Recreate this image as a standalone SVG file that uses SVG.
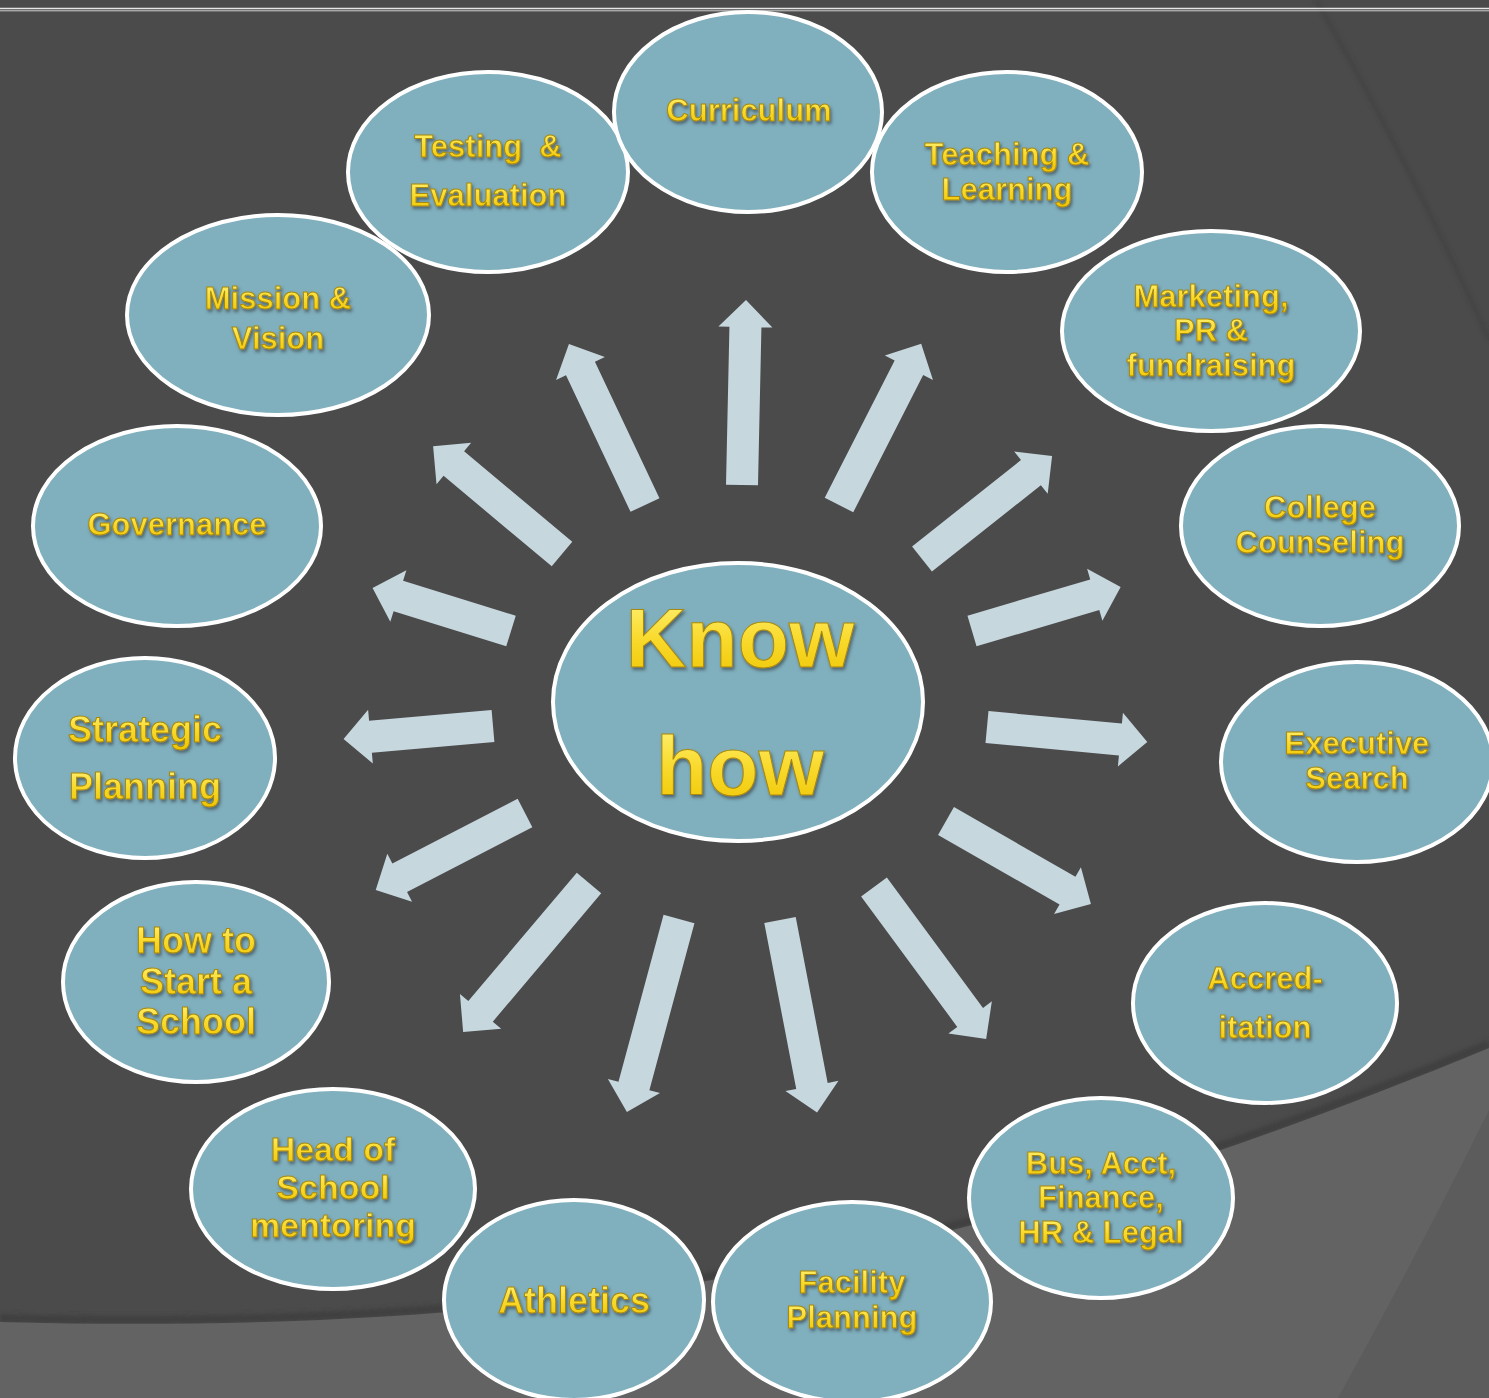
<svg xmlns="http://www.w3.org/2000/svg" width="1489" height="1398" viewBox="0 0 1489 1398">
<defs>
<linearGradient id="gold" x1="0" y1="0" x2="0" y2="1">
<stop offset="0" stop-color="#fff47e"/>
<stop offset="0.5" stop-color="#f9da2e"/>
<stop offset="1" stop-color="#eec400"/>
</linearGradient>
<filter id="sh" x="-10%" y="-20%" width="120%" height="150%">
<feDropShadow dx="1.5" dy="2.5" stdDeviation="1.5" flood-color="#3a4a50" flood-opacity="0.7"/>
</filter>
<filter id="blur"><feGaussianBlur stdDeviation="2"/></filter>
<style>
.node ellipse{fill:#80afbd;stroke:#ffffff;stroke-width:4}
.node text{font-family:"Liberation Sans",Arial,sans-serif;font-weight:bold;fill:url(#gold);stroke:#a8890a;stroke-width:1;text-anchor:middle;filter:url(#sh);white-space:pre}
.t31{font-size:31px}
.t34{font-size:34px}
.t36{font-size:36px}
.big{font-size:84px;stroke-width:1.4}
.arrow{fill:#c7d7de}
</style>
</defs>
<rect x="0" y="0" width="1489" height="1398" fill="#4b4b4b"/>
<path d="M1313,0 Q1400,150 1489,340 L1489,0 Z" fill="#4a4a4a"/>
<path d="M1316,0 Q1403,150 1489,340" fill="none" stroke="#3e3e3e" stroke-width="3" filter="url(#blur)" opacity="0.7"/>
<path d="M0,1318 C600,1334 1000,1246 1489,1044" fill="none" stroke="#3f3f3f" stroke-width="8" filter="url(#blur)"/>
<path d="M0,1322 C600,1338 1000,1250 1489,1048 L1489,1398 L0,1398 Z" fill="#636363"/>
<path d="M1489,1110 Q1420,1250 1338,1398 L1489,1398 Z" fill="#5c5c5c"/>
<line x1="0" y1="8.5" x2="1489" y2="8.5" stroke="#e6e6e6" stroke-width="1.4"/>
<line x1="0" y1="10.8" x2="1489" y2="10.8" stroke="#cfcfcf" stroke-width="1"/>

<g id="connectors">
<polygon class="arrow" transform="translate(742,485) rotate(-88.76)" points="0,-16 158,-16 158,-27 185,0 158,27 158,16 0,16"/>
<polygon class="arrow" transform="translate(839,505) rotate(-63.0)" points="0,-16 154,-16 154,-27 181,0 154,27 154,16 0,16"/>
<polygon class="arrow" transform="translate(922,559) rotate(-38.4)" points="0,-16 139,-16 139,-27 166,0 139,27 139,16 0,16"/>
<polygon class="arrow" transform="translate(972,631) rotate(-16.45)" points="0,-16 128,-16 128,-27 155,0 128,27 128,16 0,16"/>
<polygon class="arrow" transform="translate(987,727) rotate(5.36)" points="0,-16 134,-16 134,-27 161,0 134,27 134,16 0,16"/>
<polygon class="arrow" transform="translate(946,821) rotate(29.8)" points="0,-16 140,-16 140,-27 167,0 140,27 140,16 0,16"/>
<polygon class="arrow" transform="translate(874,887) rotate(53.6)" points="0,-16 162,-16 162,-27 189,0 162,27 162,16 0,16"/>
<polygon class="arrow" transform="translate(780,920) rotate(79.1)" points="0,-16 169,-16 169,-27 196,0 169,27 169,16 0,16"/>
<polygon class="arrow" transform="translate(679,919) rotate(105.1)" points="0,-16 173,-16 173,-27 200,0 173,27 173,16 0,16"/>
<polygon class="arrow" transform="translate(589,883) rotate(130.2)" points="0,-16 168,-16 168,-27 195,0 168,27 168,16 0,16"/>
<polygon class="arrow" transform="translate(525,813) rotate(152.7)" points="0,-16 141,-16 141,-27 168,0 141,27 141,16 0,16"/>
<polygon class="arrow" transform="translate(493,726) rotate(175.0)" points="0,-16 123,-16 123,-27 150,0 123,27 123,16 0,16"/>
<polygon class="arrow" transform="translate(511,631) rotate(-162.7)" points="0,-16 118,-16 118,-27 145,0 118,27 118,16 0,16"/>
<polygon class="arrow" transform="translate(562,554) rotate(-140.1)" points="0,-16 141,-16 141,-27 168,0 141,27 141,16 0,16"/>
<polygon class="arrow" transform="translate(645,505) rotate(-115.3)" points="0,-16 151,-16 151,-27 178,0 151,27 151,16 0,16"/>
</g>

<g id="node-testing" class="node">
<ellipse cx="488" cy="172" rx="140" ry="100"/>
<text class="t31" x="488" y="157">Testing  &amp;</text>
<text class="t31" x="488" y="206">Evaluation</text>
</g>
<g id="node-teaching" class="node">
<ellipse cx="1007" cy="172" rx="135" ry="100"/>
<text class="t31" x="1007" y="165">Teaching &amp;</text>
<text class="t31" x="1007" y="200">Learning</text>
</g>
<g id="node-curriculum" class="node">
<ellipse cx="748" cy="112" rx="134" ry="100"/>
<text class="t31" x="749" y="121">Curriculum</text>
</g>
<g id="node-mission" class="node">
<ellipse cx="278" cy="315" rx="151" ry="100"/>
<text class="t31" x="278" y="309">Mission &amp;</text>
<text class="t31" x="278" y="349">Vision</text>
</g>
<g id="node-marketing" class="node">
<ellipse cx="1211" cy="331" rx="149" ry="100"/>
<text class="t31" x="1211" y="307">Marketing,</text>
<text class="t31" x="1211" y="341">PR &amp;</text>
<text class="t31" x="1211" y="376">fundraising</text>
</g>
<g id="node-governance" class="node">
<ellipse cx="177" cy="526" rx="144" ry="100"/>
<text class="t31" x="177" y="535">Governance</text>
</g>
<g id="node-college" class="node">
<ellipse cx="1320" cy="526" rx="139" ry="100"/>
<text class="t31" x="1320" y="518">College</text>
<text class="t31" x="1320" y="553">Counseling</text>
</g>
<g id="node-strategic" class="node">
<ellipse cx="145" cy="758" rx="130" ry="100"/>
<text class="t36" x="145" y="742">Strategic</text>
<text class="t36" x="145" y="799">Planning</text>
</g>
<g id="node-executive" class="node">
<ellipse cx="1357" cy="762" rx="136" ry="100"/>
<text class="t31" x="1357" y="754">Executive</text>
<text class="t31" x="1357" y="789">Search</text>
</g>
<g id="node-start" class="node">
<ellipse cx="196" cy="982" rx="133" ry="100"/>
<text class="t36" x="196" y="953">How to</text>
<text class="t36" x="196" y="994">Start a</text>
<text class="t36" x="196" y="1034">School</text>
</g>
<g id="node-accreditation" class="node">
<ellipse cx="1265" cy="1003" rx="132" ry="100"/>
<text class="t31" x="1265" y="989">Accred-</text>
<text class="t31" x="1265" y="1038">itation</text>
</g>
<g id="node-head" class="node">
<ellipse cx="333" cy="1189" rx="142" ry="100"/>
<text class="t34" x="333" y="1161">Head of</text>
<text class="t34" x="333" y="1199">School</text>
<text class="t34" x="333" y="1237">mentoring</text>
</g>
<g id="node-bus" class="node">
<ellipse cx="1101" cy="1198" rx="132" ry="100"/>
<text class="t31" x="1101" y="1174">Bus, Acct,</text>
<text class="t31" x="1101" y="1208">Finance,</text>
<text class="t31" x="1101" y="1243">HR &amp; Legal</text>
</g>
<g id="node-athletics" class="node">
<ellipse cx="574" cy="1300" rx="130" ry="100"/>
<text class="t36" x="574" y="1313">Athletics</text>
</g>
<g id="node-facility" class="node">
<ellipse cx="852" cy="1302" rx="139" ry="100"/>
<text class="t31" x="852" y="1293">Facility</text>
<text class="t31" x="852" y="1328">Planning</text>
</g>
<g id="node-center" class="node">
<ellipse cx="738" cy="702" rx="185" ry="139"/>
<text class="big" x="740" y="667">Know</text>
<text class="big" x="740" y="795">how</text>
</g>
</svg>
